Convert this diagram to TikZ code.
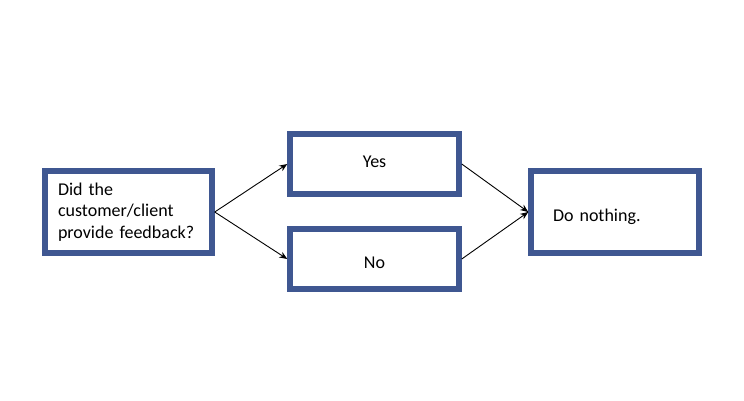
\documentclass[tikz,border=0pt]{standalone}
\usepackage{fontspec}
\setmainfont{Carlito}
\usetikzlibrary{arrows.meta}
\definecolor{boxblue}{RGB}{63,87,145}
\begin{document}
\begin{tikzpicture}[x=1pt,y=-1pt,
  flowbox/.style={draw=boxblue,line width=5.5pt,fill=white,inner sep=0pt,
    font=\fontsize{18}{21.5}\selectfont},
  conn/.style={line width=0.9pt,-{Stealth[length=8pt,width=6.5pt]}}]
\useasboundingbox (0,0) rectangle (744,400);
\node[flowbox,minimum width=167pt,minimum height=82pt,text width=141pt,inner xsep=13pt,align=left] (q) at (128.5,212) {Did the\\customer/client\\provide feedback?};
\node[flowbox,minimum width=169pt,minimum height=60pt,text height=12pt,text depth=6pt] (yes) at (374.5,164) {Yes};
\node[flowbox,minimum width=169pt,minimum height=60pt,text height=18pt,text depth=0pt] (no) at (374.5,259) {No};
\node[flowbox,minimum width=168pt,minimum height=82pt,text width=146pt,inner xsep=11pt,align=left,text height=18pt,text depth=0pt] (act) at (615,212) {\hspace*{11pt}Do nothing.};
\draw[conn] (q.east) -- (yes.west);
\draw[conn] (q.east) -- (no.west);
\draw[conn] (yes.east) -- (act.west);
\draw[conn] (no.east) -- (act.west);
\end{tikzpicture}
\end{document}
